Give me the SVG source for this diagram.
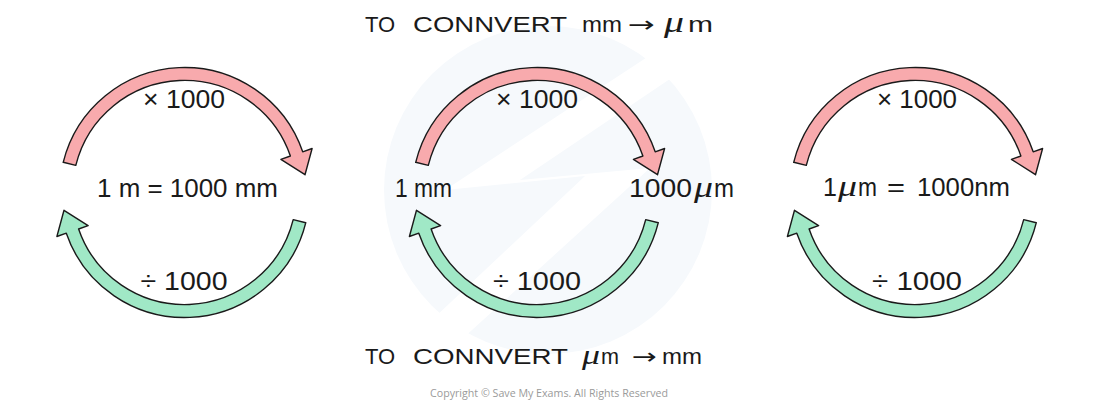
<svg xmlns="http://www.w3.org/2000/svg" width="1099" height="406" viewBox="0 0 1099 406">
<style>
  .t { font-family: "Liberation Sans", Arial, sans-serif; fill: #1a1a1a; }
  .lbl { font-size: 25px; }
  .title { font-size: 22px; }
  .mu { font-family: "Liberation Serif", serif; font-style: italic; font-weight: normal; fill: #1a1a1a; }
  .arr { font-family: "DejaVu Sans", sans-serif; fill: #1a1a1a; }
  .red { fill: #f8aaad; stroke: #1a1a1a; stroke-width: 1.4; stroke-linejoin: round; }
  .green { fill: #a0e8c6; stroke: #1a1a1a; stroke-width: 1.4; stroke-linejoin: round; }
  .copy { font-family: "Open Sans", "Liberation Sans", sans-serif; font-size: 10.5px; fill: #9a9a9a; }
</style>
<defs>
  <path id="redArrow" d="M -121.3,-30.2 A 125 125 0 0 1 118.2,-40.7 L 127.6,-44.0 L 120.5,-17.8 L 96.4,-33.2 L 105.9,-36.5 A 112 112 0 0 0 -108.7,-27.1 Z"/>
  <path id="greenArrow" d="M 121.3,30.2 A 125 125 0 0 1 -118.2,40.7 L -127.6,44.0 L -120.5,17.8 L -96.4,33.2 L -105.9,36.5 A 112 112 0 0 0 108.7,27.1 Z"/>
</defs>
<rect width="1099" height="406" fill="#ffffff"/>
<g id="watermark">
  <circle cx="548" cy="190" r="164" fill="#f6f9fc"/>
  <polygon points="710,52 655,52 445,190 585,176 400,350 450,350 650,168 520,180" fill="#ffffff"/>
</g>
<g id="connectors">
  <use href="#redArrow" class="red" transform="translate(184.5,192.5)"/>
  <use href="#greenArrow" class="green" transform="translate(184.5,192.5)"/>
  <use href="#redArrow" class="red" transform="translate(537,192.5)"/>
  <use href="#greenArrow" class="green" transform="translate(537,192.5)"/>
  <use href="#redArrow" class="red" transform="translate(915,192.5)"/>
  <use href="#greenArrow" class="green" transform="translate(915,192.5)"/>
</g>
<g id="title-top" class="t title">
  <text x="365" y="32">TO</text>
  <text x="413" y="32" textLength="154" lengthAdjust="spacingAndGlyphs">CONNVERT</text>
  <text x="582" y="32" textLength="40" lengthAdjust="spacingAndGlyphs">mm</text>
  <text class="arr" x="628" y="32" textLength="27" lengthAdjust="spacingAndGlyphs">→</text>
  <text class="mu" x="664" y="32" font-size="30" textLength="20" lengthAdjust="spacingAndGlyphs">μ</text>
  <text x="688" y="32" textLength="25" lengthAdjust="spacingAndGlyphs">m</text>
</g>
<g id="node-left" class="t lbl">
  <text x="184" y="108" text-anchor="middle" textLength="82" lengthAdjust="spacingAndGlyphs">× 1000</text>
  <text x="97" y="197" textLength="181" lengthAdjust="spacingAndGlyphs">1 m = 1000 mm</text>
  <text x="184" y="290" text-anchor="middle" textLength="87" lengthAdjust="spacingAndGlyphs">÷ 1000</text>
</g>
<g id="node-middle" class="t lbl">
  <text x="537" y="108" text-anchor="middle" textLength="82" lengthAdjust="spacingAndGlyphs">× 1000</text>
  <text x="395" y="197" textLength="57" lengthAdjust="spacingAndGlyphs">1 mm</text>
  <text x="629" y="197" textLength="63" lengthAdjust="spacingAndGlyphs">1000</text>
  <text class="mu" x="694" y="197" font-size="30" textLength="19" lengthAdjust="spacingAndGlyphs">μ</text>
  <text x="714" y="197" textLength="20" lengthAdjust="spacingAndGlyphs">m</text>
  <text x="537" y="290" text-anchor="middle" textLength="88" lengthAdjust="spacingAndGlyphs">÷ 1000</text>
</g>
<g id="node-right" class="t lbl">
  <text x="823" y="196">1</text>
  <text class="mu" x="838" y="196" font-size="30" textLength="19" lengthAdjust="spacingAndGlyphs">μ</text>
  <text x="858" y="196" textLength="19" lengthAdjust="spacingAndGlyphs">m</text>
  <text x="887" y="196" textLength="18" lengthAdjust="spacingAndGlyphs">=</text>
  <text x="917" y="196" textLength="93" lengthAdjust="spacingAndGlyphs">1000nm</text>
  <text x="917" y="108" text-anchor="middle" textLength="80" lengthAdjust="spacingAndGlyphs">× 1000</text>
  <text x="917" y="290" text-anchor="middle" textLength="90" lengthAdjust="spacingAndGlyphs">÷ 1000</text>
</g>
<g id="title-bottom" class="t title">
  <text x="365" y="364">TO</text>
  <text x="413" y="364" textLength="155" lengthAdjust="spacingAndGlyphs">CONNVERT</text>
  <text class="mu" x="582" y="364" font-size="28" textLength="18" lengthAdjust="spacingAndGlyphs">μ</text>
  <text x="601" y="364" textLength="18" lengthAdjust="spacingAndGlyphs">m</text>
  <text class="arr" x="632" y="364" textLength="25" lengthAdjust="spacingAndGlyphs">→</text>
  <text x="662" y="364" textLength="40" lengthAdjust="spacingAndGlyphs">mm</text>
</g>
<text class="copy" x="549" y="397" text-anchor="middle" textLength="238" lengthAdjust="spacingAndGlyphs">Copyright © Save My Exams. All Rights Reserved</text>
</svg>
